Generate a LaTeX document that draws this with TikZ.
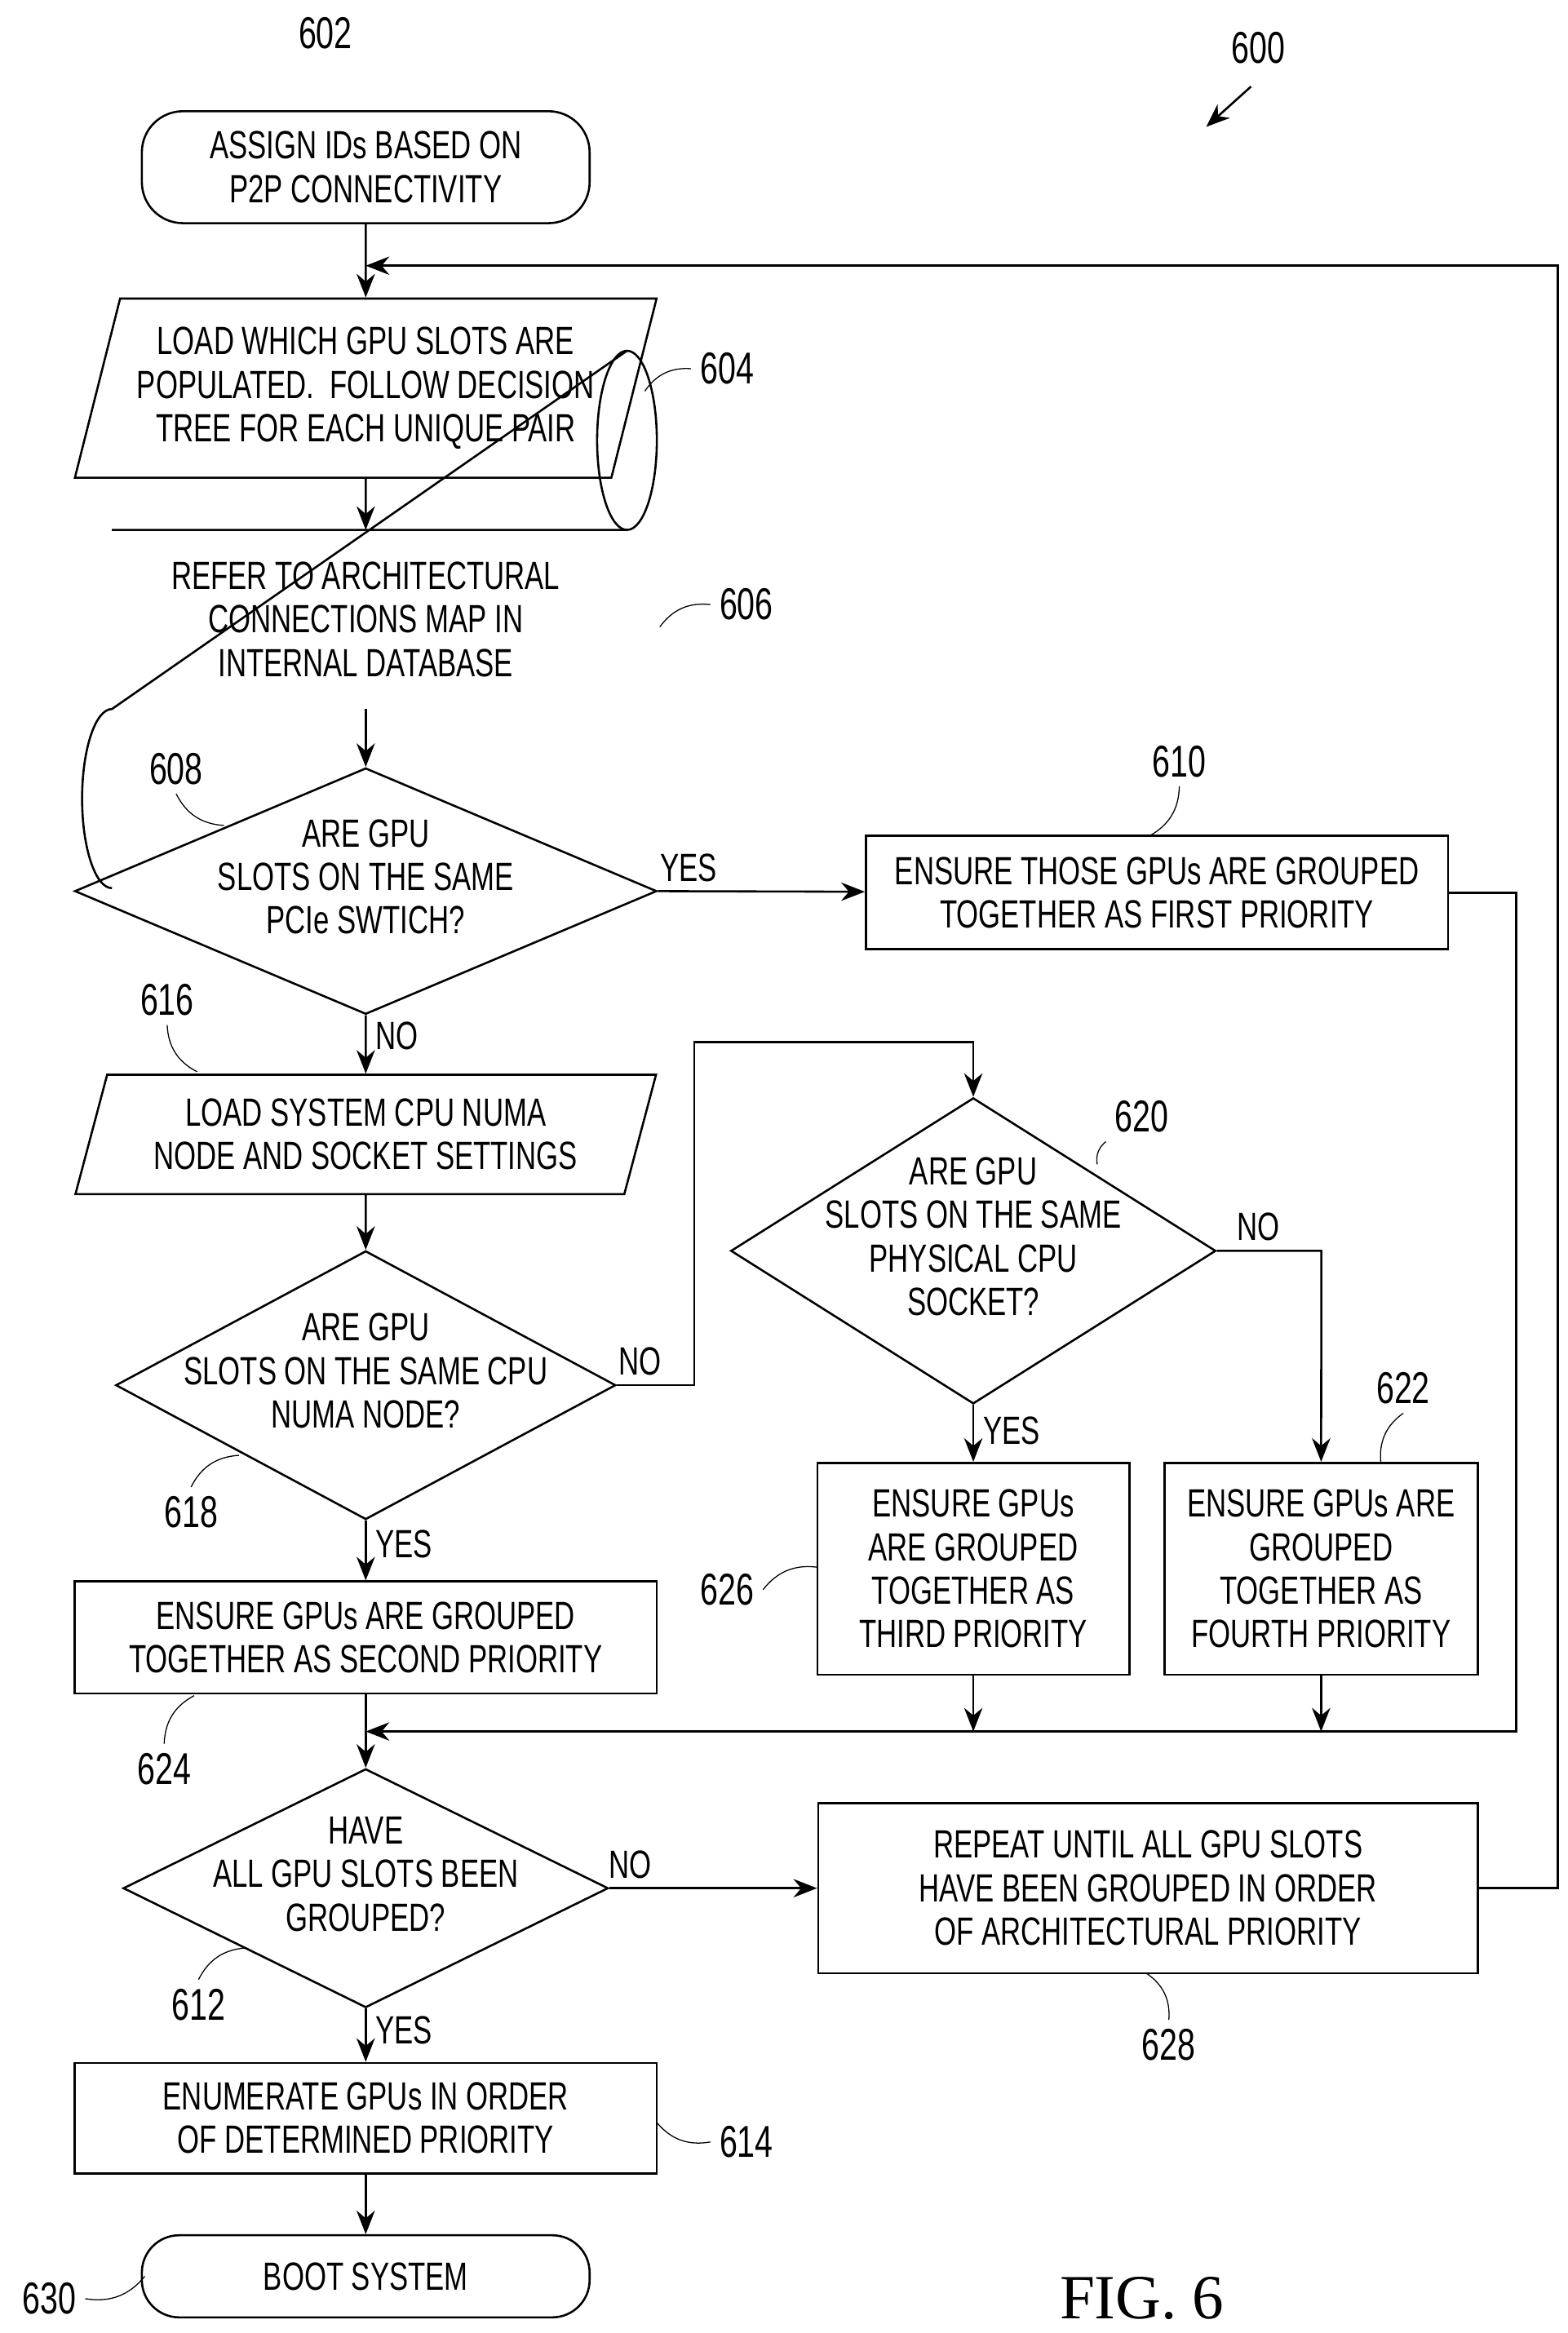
\documentclass[tikz,border=0pt]{standalone}
\usepackage{fontspec}
\setmainfont[FakeStretch=0.72]{Liberation Sans}
\usetikzlibrary{shapes.geometric,arrows.meta}
\newcommand{\dtext}[1]{\makebox[0pt]{\smash{\begin{tabular}[c]{@{}c@{}}#1\end{tabular}}}}
\tikzset{
  box/.style={draw,thick,align=center,inner sep=2pt},
  term/.style={box,rounded corners=0.55cm},
  data/.style={box,trapezium,trapezium left angle=72,trapezium right angle=108,trapezium stretches=true},
  dec/.style={box,diamond,inner sep=0pt},
  line/.style={thick,-{Stealth[length=9pt,width=7pt]}},
  ref/.style={font=\fontsize{17}{17}\selectfont},
  lead/.style={thin}
}
\begin{document}
\begin{tikzpicture}[x=0.02cm,y=-0.02cm,font=\fontsize{15}{16.6}\selectfont]
        \useasboundingbox (0,0) rectangle (1050,1563);

        \node[term,minimum width=6cm,minimum height=1.5cm] (s602) at (245,112) {ASSIGN IDs BASED ON\\P2P CONNECTIVITY};
        \node[data,minimum width=7.8cm,minimum height=2.4cm] (s604) at (245,260) {LOAD WHICH GPU SLOTS ARE\\POPULATED.\ \ FOLLOW DECISION\\TREE FOR EACH UNIQUE PAIR};
        % database drawn by hand
        \draw[thick] (75,355) -- (420,355) arc[start angle=90,end angle=-90,x radius=20,y radius=60]
            -- (75,475) arc[start angle=270,end angle=90,x radius=20,y radius=60];
        \draw[thick] (420,355) arc[start angle=90,end angle=270,x radius=20,y radius=60];
        \node[align=center,inner sep=0pt] (s606) at (245,415) {REFER TO ARCHITECTURAL\\CONNECTIONS MAP IN\\INTERNAL DATABASE};
        \coordinate (s606t) at (245,355);
        \coordinate (s606b) at (245,475);
        \node[dec,minimum width=7.8cm,minimum height=3.3cm] (s608) at (245,597) {\dtext{ARE GPU\\SLOTS ON THE SAME\\PCIe SWTICH?}};
        \node[box,minimum width=7.8cm,minimum height=1.52cm] (s610) at (775,598) {ENSURE THOSE GPUs ARE GROUPED\\TOGETHER AS FIRST PRIORITY};
        \node[data,minimum width=7.8cm,minimum height=1.6cm] (s616) at (245,760) {LOAD SYSTEM CPU NUMA\\NODE AND SOCKET SETTINGS};
        \node[dec,minimum width=6.5cm,minimum height=4.1cm] (s620) at (652,838) {\dtext{ARE GPU\\SLOTS ON THE SAME\\PHYSICAL CPU\\SOCKET?}};
        \node[dec,minimum width=6.7cm,minimum height=3.6cm] (s618) at (245,928) {\dtext{ARE GPU\\SLOTS ON THE SAME CPU\\NUMA NODE?}};
        \node[box,minimum width=7.8cm,minimum height=1.5cm] (s624) at (245,1097) {ENSURE GPUs ARE GROUPED\\TOGETHER AS SECOND PRIORITY};
        \node[box,minimum width=4.18cm,minimum height=2.84cm] (s626) at (652,1051) {ENSURE GPUs\\ARE GROUPED\\TOGETHER AS\\THIRD PRIORITY};
        \node[box,minimum width=4.2cm,minimum height=2.84cm] (s622) at (885,1051) {ENSURE GPUs ARE\\GROUPED\\TOGETHER AS\\FOURTH PRIORITY};
        \node[dec,minimum width=6.5cm,minimum height=3.2cm] (s612) at (245,1265) {\dtext{HAVE\\ALL GPU SLOTS BEEN\\GROUPED?}};
        \node[box,minimum width=8.84cm,minimum height=2.28cm] (s628) at (769,1265) {REPEAT UNTIL ALL GPU SLOTS\\HAVE BEEN GROUPED IN ORDER\\OF ARCHITECTURAL PRIORITY};
        \node[box,minimum width=7.8cm,minimum height=1.48cm] (s614) at (245,1419) {ENUMERATE GPUs IN ORDER\\OF DETERMINED PRIORITY};
        \node[term,minimum width=6cm,minimum height=1.1cm,rounded corners=0.5cm] (s630) at (245,1525) {BOOT SYSTEM};

        % joints
        \coordinate (top) at (245,178);
        \coordinate (mid) at (245,1160);

        \draw[line] (s602) -- (s604);
        \draw[line] (s604) -- (s606t);
        \draw[line] (s606b) -- (s608);
        \draw[line] (s608.east) -- node[above,pos=0.15] {YES} (s610);
        \draw[line] (s608.south) -- node[right,pos=0.35] {NO} (s616);
        \draw[line] (s616) -- (s618);
        \draw[line] (s618.east) -- node[above,pos=0.3] {NO} ++(52,0) |- (652,698) -- (s620.north);
        \draw[line] (s620.east) -- node[above,pos=0.4] {NO} ++(70,0) -- (s622.north);
        \draw[line] (s620.south) -- node[right,pos=0.45] {YES} (s626);
        \draw[line] (s618.south) -- node[right,pos=0.4] {YES} (s624);
        \draw[line] (s624) -- (s612);
        \draw[line] (s610.east) -- ++(45,0) |- (mid);
        \draw[line] (s626.south) -- (s626.south |- mid);
        \draw[line] (s622.south) -- (s622.south |- mid);
        \draw[line] (s612.east) -- node[above,pos=0.1] {NO} (s628);
        \draw[line] (s628.east) -- ++(53,0) |- (top);
        \draw[line] (s612.south) -- node[right,pos=0.4] {YES} (s614);
        \draw[line] (s614) -- (s630);

        % reference numerals
        \node[ref] (n600) at (843,32) {600};
        \draw[line] (838,58) -- (808,85);
        \node[ref] (n602) at (218,22) {602};
        \node[ref] (n604) at (487,247) {604};
        \draw[lead] (n604.west) to[bend right=30] (432,262);
        \node[ref] (n606) at (500,405) {606};
        \draw[lead] (n606.west) to[bend right=30] (442,420);
        \node[ref] (n608) at (118,515) {608};
        \draw[lead] (n608.south) to[bend right=30] (150,553);
        \node[ref] (n610) at (790,510) {610};
        \draw[lead] (n610.south) to[bend left=30] (770,560);
        \node[ref] (n616) at (112,670) {616};
        \draw[lead] (n616.south) to[bend right=30] (132,718);
        \node[ref] (n620) at (765,748) {620};
        \draw[lead] (n620.south west) to[bend right=30] (735,780);
        \node[ref] (n618) at (128,1013) {618};
        \draw[lead] (n618.north) to[bend left=30] (160,975);
        \node[ref] (n624) at (110,1185) {624};
        \draw[lead] (n624.north) to[bend left=30] (130,1136);
        \node[ref] (n626) at (487,1065) {626};
        \draw[lead] (n626.east) to[bend left=30] (548,1050);
        \node[ref] (n622) at (940,930) {622};
        \draw[lead] (n622.south) to[bend right=30] (925,980);
        \node[ref] (n612) at (133,1343) {612};
        \draw[lead] (n612.north) to[bend left=30] (165,1305);
        \node[ref] (n628) at (783,1370) {628};
        \draw[lead] (n628.north) to[bend right=30] (768,1322);
        \node[ref] (n614) at (500,1435) {614};
        \draw[lead] (n614.west) to[bend left=30] (440,1422);
        \node[ref] (n630) at (33,1540) {630};
        \draw[lead] (n630.east) to[bend right=30] (97,1525);
        \node[font=\fontspec{Liberation Serif}\fontsize{24}{24}\selectfont] (fig) at (765,1540) {FIG. 6};
\end{tikzpicture}
\end{document}
